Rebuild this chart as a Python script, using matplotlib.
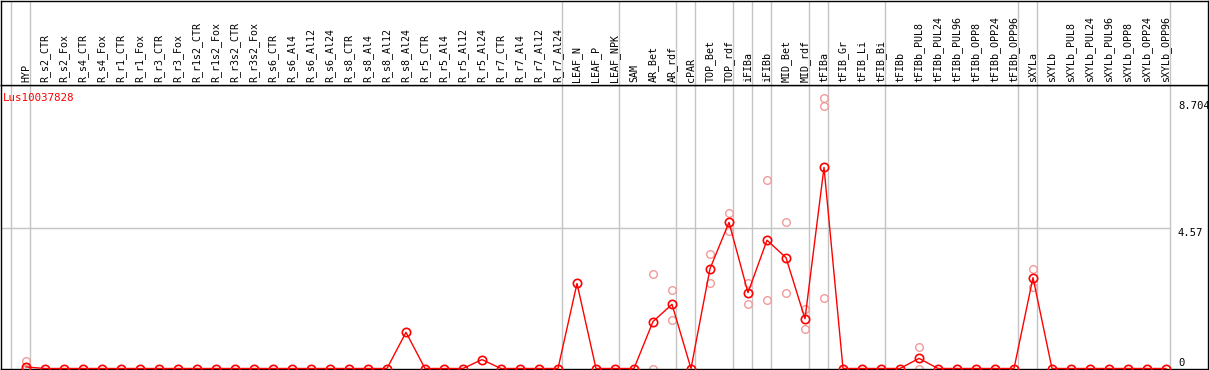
import matplotlib
matplotlib.use("Agg")
import matplotlib.pyplot as plt
import numpy as np

# Mintak (oszlopcimkek)
samples = ["HYP", "R_s2_CTR", "R_s2_Fox", "R_s4_CTR", "R_s4_Fox", "R_r1_CTR", "R_r1_Fox",
           "R_r3_CTR", "R_r3_Fox", "R_r1s2_CTR", "R_r1s2_Fox", "R_r3s2_CTR", "R_r3s2_Fox",
           "R_s6_CTR", "R_s6_Al4", "R_s6_Al12", "R_s6_Al24", "R_s8_CTR", "R_s8_Al4",
           "R_s8_Al12", "R_s8_Al24", "R_r5_CTR", "R_r5_Al4", "R_r5_Al12", "R_r5_Al24",
           "R_r7_CTR", "R_r7_Al4", "R_r7_Al12", "R_r7_Al24", "LEAF_N", "LEAF_P", "LEAF_NPK",
           "SAM", "AR_Bet", "AR_rdf", "cPAR", "TOP_Bet", "TOP_rdf", "iFIBa", "iFIBb",
           "MID_Bet", "MID_rdf", "tFIBa", "tFIB_Gr", "tFIB_Li", "tFIB_Bi", "tFIBb",
           "tFIBb_PUL8", "tFIBb_PUL24", "tFIBb_PUL96", "tFIBb_OPP8", "tFIBb_OPP24",
           "tFIBb_OPP96", "sXYLa", "sXYLb", "sXYLb_PUL8", "sXYLb_PUL24", "sXYLb_PUL96",
           "sXYLb_OPP8", "sXYLb_OPP24", "sXYLb_OPP96"]

# Atlagertekek
means = [0.05, 0, 0, 0, 0, 0, 0, 0, 0, 0, 0, 0, 0, 0, 0, 0, 0, 0, 0, 0, 1.18,
         0, 0, 0, 0.29, 0, 0, 0, 0, 2.77, 0, 0, 0, 1.53, 2.09, 0, 3.25, 4.76,
         2.47, 4.18, 3.61, 1.62, 6.55, 0, 0, 0, 0, 0.33, 0, 0, 0, 0, 0,
         2.96, 0, 0, 0, 0, 0, 0, 0]

# Ismetlesek (csak a nem nulla mintak)
replicates = {
    "HYP": [0.26, 0.0],
    "AR_Bet": [3.09, 0.0],
    "AR_rdf": [2.57, 1.59],
    "TOP_Bet": [3.74, 2.77],
    "TOP_rdf": [5.05, 4.48],
    "iFIBa": [2.80, 2.11],
    "iFIBb": [6.14, 2.22],
    "MID_Bet": [4.76, 2.47],
    "MID_rdf": [1.95, 1.30],
    "tFIBa": [8.80, 8.54, 2.31],
    "tFIBb_PUL8": [0.70, 0.0],
    "sXYLa": [3.25, 2.67],
}

# Csoporthatarok (szurke fuggoleges vonalak)
group_breaks = [-1, 0, 28, 31, 34, 35, 37, 38, 39, 41, 42, 45, 52, 53, 60]
y_ticks = [0, 4.57, 8.704]
gene = "Lus10037828"

W, H = 1209, 370
fig = plt.figure(figsize=(W / 100, H / 100), dpi=100)

# pixel -> adat atvaltas
x0, dx = 26.0, 19.0
y0, dy = 368.5, 30.7
xlim = ((1 - x0) / dx, (1208 - x0) / dx)

ax = fig.add_axes([1 / W, 1 / H, 1207 / W, 284 / H])
axl = fig.add_axes([1 / W, 285 / H, 1207 / W, 84 / H])

ax.set_xlim(xlim)
ax.set_ylim((y0 - 369) / dy, (y0 - 85) / dy)
axl.set_xlim(xlim)
axl.set_ylim(0, 1)

for a in (ax, axl):
    a.set_xticks([])
    a.set_yticks([])
    for s in a.spines.values():
        s.set_color("black")
        s.set_linewidth(1.0)
    for b in group_breaks:
        a.axvline(b + 0.2, color="#c4c4c4", lw=1.0, zorder=0)

x = np.arange(len(samples))
ax.hlines(4.57, xlim[0], group_breaks[-1] + 0.2, color="#c4c4c4", lw=1.0, zorder=0)

# ismetlesek
for name, vals in replicates.items():
    i = samples.index(name)
    ax.plot([i] * len(vals), vals, "o", ms=5.5, mfc="none", mec="#f09a9a", mew=1.0,
            zorder=2, clip_on=False)

# atlag vonal
ax.plot(x, means, "-", color="red", lw=1.0, zorder=3, clip_on=False)
ax.plot(x, means, "o", ms=6, mfc="none", mec="red", mew=1.2, zorder=4, clip_on=False)

# oszlopcimkek
for i, s in enumerate(samples):
    axl.text(i, 0.03, s, rotation=90, ha="center", va="bottom",
             family="DejaVu Sans Mono", fontsize=7.2)

# y ertekek jobb oldalon
tx = (1178 - x0) / dx
for v in y_ticks:
    ax.text(tx, v, ("%g" % v), ha="left", va="bottom" if v == 0 else "top",
            family="DejaVu Sans Mono", fontsize=7.6)

ax.text((3 - x0) / dx, (y0 - 98) / dy, gene, color="red", ha="left", va="center",
        family="DejaVu Sans Mono", fontsize=7.8)

plt.savefig("out.png", dpi=100)
